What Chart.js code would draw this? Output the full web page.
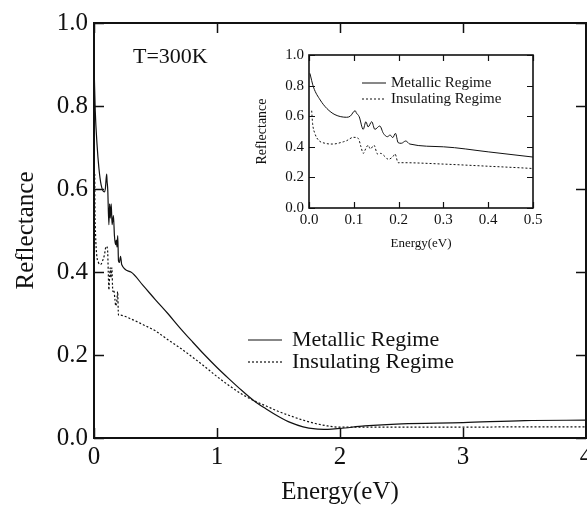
<!DOCTYPE html>
<html>
<head>
<meta charset="utf-8">
<title>Reflectance vs Energy</title>
<script src="https://cdn.jsdelivr.net/npm/chart.js@4.4.1/dist/chart.umd.min.js"></script>
<style>
  html, body { margin: 0; padding: 0; background: #fff; }
  #wrap { position: relative; width: 587px; height: 506px; overflow: hidden; background: #fff; }
  #mainChart { position: absolute; left: 0; top: 0; }
  #insetChart { position: absolute; left: 250px; top: 40px; }
</style>
</head>
<body>
<div id="wrap">
  <canvas id="mainChart" width="587" height="506"></canvas>
  <canvas id="insetChart" width="300" height="215"></canvas>
</div>
<script>
// Metallic regime: photon energy (eV) and reflectance
const metalEnergy = [0.002, 0.01, 0.025, 0.04, 0.058, 0.084, 0.092, 0.103, 0.106, 0.112,
  0.121, 0.127, 0.132, 0.14, 0.147, 0.158, 0.166, 0.175, 0.181, 0.187,
  0.193, 0.199, 0.206, 0.216, 0.225, 0.3, 0.4, 0.5, 0.6, 0.7,
  0.8, 0.9, 1.0, 1.1, 1.2, 1.3, 1.4, 1.5, 1.6, 1.7,
  1.8, 1.9, 2.0, 2.2, 2.5, 3.0, 3.5, 4.0];
const metalRefl = [0.88, 0.79, 0.706, 0.65, 0.61, 0.593, 0.60, 0.636, 0.62, 0.597,
  0.514, 0.564, 0.53, 0.564, 0.514, 0.536, 0.488, 0.466, 0.477, 0.46,
  0.488, 0.427, 0.423, 0.438, 0.418, 0.40, 0.367, 0.333, 0.30, 0.265,
  0.232, 0.20, 0.17, 0.142, 0.115, 0.09, 0.07, 0.052, 0.037, 0.027,
  0.022, 0.021, 0.023, 0.029, 0.034, 0.037, 0.042, 0.043];

// Insulating regime
const insulEnergy = [0.006, 0.008, 0.013, 0.021, 0.036, 0.053, 0.077, 0.084, 0.099, 0.11,
  0.116, 0.121, 0.127, 0.132, 0.137, 0.145, 0.153, 0.16, 0.17, 0.177,
  0.187, 0.192, 0.199, 0.21, 0.3, 0.4, 0.5, 0.6, 0.7, 0.8,
  0.9, 1.0, 1.1, 1.2, 1.3, 1.4, 1.5, 1.6, 1.7, 1.8,
  1.9, 2.0, 2.5, 3.0, 3.5, 4.0];
const insulRefl = [0.636, 0.553, 0.488, 0.444, 0.423, 0.418, 0.433, 0.44, 0.462, 0.455,
  0.40, 0.357, 0.39, 0.41, 0.386, 0.41, 0.353, 0.357, 0.335, 0.318,
  0.335, 0.353, 0.296, 0.296, 0.287, 0.273, 0.258, 0.237, 0.217, 0.195,
  0.172, 0.148, 0.126, 0.106, 0.09, 0.077, 0.064, 0.053, 0.043, 0.035,
  0.029, 0.026, 0.026, 0.026, 0.027, 0.027];

// tick values
const mainEnergyTicks = [0, 1, 2, 3, 4];
const insetEnergyTicks = [0, 0.1, 0.2, 0.3, 0.4, 0.5];
const reflTicks = [0, 0.2, 0.4, 0.6, 0.8, 1.0];

const SERIF = "'Liberation Serif', 'Times New Roman', serif";
const INK = '#111';

function points(xs, ys) {
  return xs.map((x, i) => ({ x: x, y: ys[i] }));
}

function makeDatasets(width, dash) {
  return [
    { label: 'Metallic Regime', data: points(metalEnergy, metalRefl), borderColor: INK,
      borderWidth: width, pointRadius: 0, cubicInterpolationMode: 'monotone' },
    { label: 'Insulating Regime', data: points(insulEnergy, insulRefl), borderColor: INK,
      borderWidth: width, borderDash: dash, pointRadius: 0, cubicInterpolationMode: 'monotone' }
  ];
}

// box around the plot with inward ticks on all four sides
const frameTicks = {
  id: 'frameTicks',
  afterDatasetsDraw(chart, args, opts) {
    const { ctx, chartArea: a, scales } = chart;
    const len = opts.length;
    ctx.save();
    ctx.strokeStyle = INK;
    ctx.lineWidth = opts.tickWidth;
    ctx.beginPath();
    scales.x.ticks.forEach(t => {
      const px = Math.round(scales.x.getPixelForValue(t.value)) + 0.5;
      ctx.moveTo(px, a.bottom); ctx.lineTo(px, a.bottom - len);
      ctx.moveTo(px, a.top); ctx.lineTo(px, a.top + len);
    });
    scales.y.ticks.forEach(t => {
      const py = Math.round(scales.y.getPixelForValue(t.value)) + 0.5;
      ctx.moveTo(a.left, py); ctx.lineTo(a.left + len, py);
      ctx.moveTo(a.right, py); ctx.lineTo(a.right - len, py);
    });
    ctx.stroke();
    ctx.lineWidth = opts.frameWidth;
    ctx.strokeRect(a.left, a.top, a.right - a.left, a.bottom - a.top);
    ctx.restore();
  }
};

// free text and a hand placed legend
const notes = {
  id: 'notes',
  afterDraw(chart, args, opts) {
    const ctx = chart.ctx;
    ctx.save();
    ctx.fillStyle = INK;
    (opts.texts || []).forEach(t => {
      ctx.font = t.size + 'px ' + SERIF;
      ctx.textBaseline = 'alphabetic';
      ctx.fillText(t.text, t.x, t.y);
    });
    const lg = opts.legend;
    if (lg) {
      chart.data.datasets.forEach((ds, i) => {
        const y = lg.y + i * lg.gap;
        ctx.strokeStyle = ds.borderColor;
        ctx.lineWidth = ds.borderWidth;
        ctx.setLineDash(ds.borderDash || []);
        ctx.beginPath();
        ctx.moveTo(lg.x, y);
        ctx.lineTo(lg.x + lg.len, y);
        ctx.stroke();
        ctx.setLineDash([]);
        ctx.font = lg.size + 'px ' + SERIF;
        ctx.textBaseline = 'middle';
        ctx.fillText(ds.label, lg.x + lg.len + lg.pad, y);
      });
    }
    ctx.restore();
  }
};

function scaleX(min, max, tickVals, fmt, tickSize, titleSize, titlePad, height, tickPad) {
  return {
    type: 'linear', min: min, max: max,
    grid: { display: false, drawTicks: false },
    border: { display: false },
    afterBuildTicks: s => { s.ticks = tickVals.map(v => ({ value: v })); },
    ticks: { font: { family: SERIF, size: tickSize }, color: INK, padding: tickPad,
      maxRotation: 0, autoSkip: false, callback: fmt },
    title: { display: true, text: 'Energy(eV)', color: INK,
      font: { family: SERIF, size: titleSize, lineHeight: 1 }, padding: { top: 0, bottom: titlePad } },
    afterFit: s => { s.height = height; s.paddingLeft = 0; s.paddingRight = 0; }
  };
}

function scaleY(tickSize, titleSize, titlePad, width, tickPad) {
  return {
    type: 'linear', min: 0, max: 1,
    grid: { display: false, drawTicks: false },
    border: { display: false },
    afterBuildTicks: s => { s.ticks = reflTicks.map(v => ({ value: v })); },
    ticks: { font: { family: SERIF, size: tickSize }, color: INK, padding: tickPad,
      callback: v => v.toFixed(1) },
    title: { display: true, text: 'Reflectance', color: INK,
      font: { family: SERIF, size: titleSize, lineHeight: 1 }, padding: { top: titlePad, bottom: 0 } },
    afterFit: s => { s.width = width; s.paddingTop = 0; s.paddingBottom = 0; }
  };
}

new Chart(document.getElementById('mainChart'), {
  type: 'line',
  data: { datasets: makeDatasets(1.2, [2, 2]) },
  options: {
    responsive: false,
    animation: false,
    layout: { padding: { top: 23, right: 1, left: 0, bottom: 0 } },
    plugins: {
      legend: { display: false },
      tooltip: { enabled: false },
      frameTicks: { length: 10, tickWidth: 1.5, frameWidth: 2 },
      notes: {
        texts: [{ text: 'T=300K', x: 133, y: 63, size: 22 }],
        legend: { x: 248, y: 340, gap: 22, len: 34, pad: 10, size: 22 }
      }
    },
    scales: {
      x: scaleX(0, 4, mainEnergyTicks, v => String(v), 25, 25, 1, 68, 4),
      y: scaleY(25, 25, 14, 94, 6)
    }
  },
  plugins: [frameTicks, notes]
});

new Chart(document.getElementById('insetChart'), {
  type: 'line',
  data: { datasets: makeDatasets(1, [2, 2]) },
  options: {
    responsive: false,
    animation: false,
    layout: { padding: { top: 15, right: 17, left: 0, bottom: 0 } },
    plugins: {
      legend: { display: false },
      tooltip: { enabled: false },
      frameTicks: { length: 6, tickWidth: 1.2, frameWidth: 1.6 },
      notes: {
        legend: { x: 112, y: 43, gap: 16, len: 24, pad: 5, size: 15 }
      }
    },
    scales: {
      x: scaleX(0, 0.5, insetEnergyTicks, v => v.toFixed(1), 15, 13, 5, 47, 3),
      y: scaleY(15, 14, 5, 59, 5)
    }
  },
  plugins: [frameTicks, notes]
});
</script>
</body>
</html>
